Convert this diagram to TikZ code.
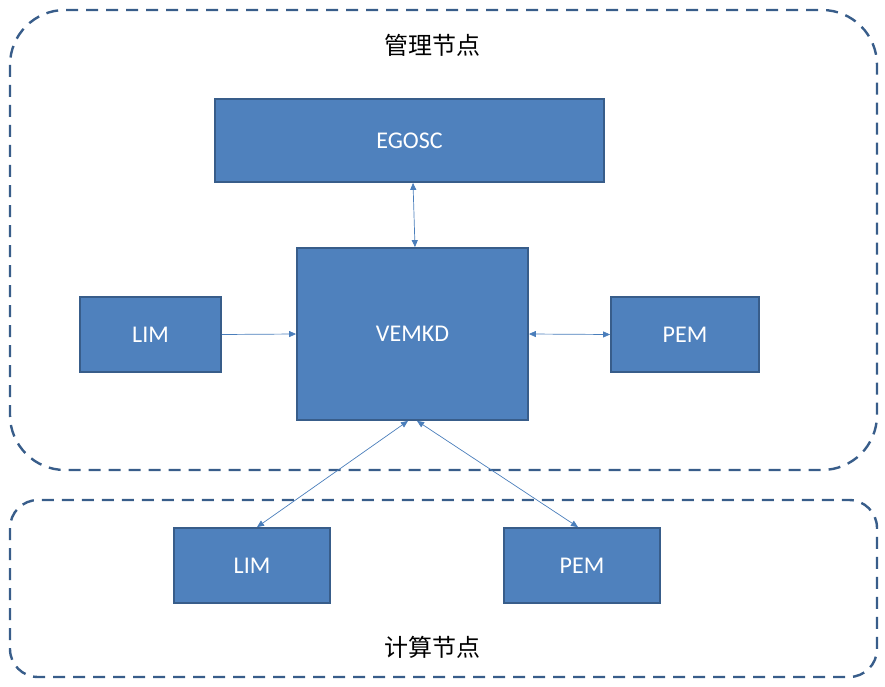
\documentclass[tikz,border=0pt]{standalone}
\usepackage{fontspec}
\setmainfont{Carlito}
\newfontfamily\cjk{Noto Sans CJK SC}
\usetikzlibrary{arrows.meta}
\definecolor{boxfill}{HTML}{4F81BD}
\definecolor{boxline}{HTML}{385D8A}
\definecolor{arrowc}{HTML}{4A7EBB}
\tikzset{
  blk/.style={draw=boxline, line width=1.8pt, fill=boxfill, text=white, font=\fontsize{24}{28}\selectfont, inner sep=0pt},
  grp/.style={draw=boxline, line width=2.4pt, dash pattern=on 12pt off 8pt},
  conn/.style={draw=arrowc, line width=0.7pt},
  tip/.style={-{Triangle[length=7pt,width=6pt]}},
  tips/.style={{Triangle[length=7pt,width=6pt]}-{Triangle[length=7pt,width=6pt]}},
  lbl/.style={font=\cjk\fontsize{24}{28}\selectfont, text=black}
}
\begin{document}
\begin{tikzpicture}[x=1pt,y=-1pt]
\useasboundingbox (0,0) rectangle (885,687);
\draw[grp, rounded corners=55pt] (10,10) rectangle (877,470);
\draw[grp, rounded corners=28pt] (10,500) rectangle (877,677);
\node[lbl] (mgmt) at (432,45) {管理节点};
\node[lbl] (comp) at (432,647) {计算节点};
\node[blk, minimum width=389pt, minimum height=83pt] (egosc) at (409.5,140.5) {EGOSC};
\node[blk, minimum width=231pt, minimum height=172pt] (vemkd) at (412.5,334) {VEMKD};
\node[blk, minimum width=141pt, minimum height=75pt] (lim1) at (150.5,334.5) {LIM};
\node[blk, minimum width=148pt, minimum height=75pt] (pem1) at (685,334.5) {PEM};
\node[blk, minimum width=156pt, minimum height=75pt] (lim2) at (252,565.5) {LIM};
\node[blk, minimum width=156pt, minimum height=75pt] (pem2) at (582,565.5) {PEM};
\draw[conn, tips] ([xshift=3.5pt]egosc.south) -- ([xshift=2.5pt]vemkd.north);
\draw[conn, tip] (lim1.east) -- (vemkd.west);
\draw[conn, tips] (vemkd.east) -- (pem1.west);
\draw[conn, tips] ([xshift=-4.5pt]vemkd.south) -- ([xshift=5pt]lim2.north);
\draw[conn, tips] ([xshift=4.5pt]vemkd.south) -- ([xshift=-4pt]pem2.north);
\end{tikzpicture}
\end{document}
